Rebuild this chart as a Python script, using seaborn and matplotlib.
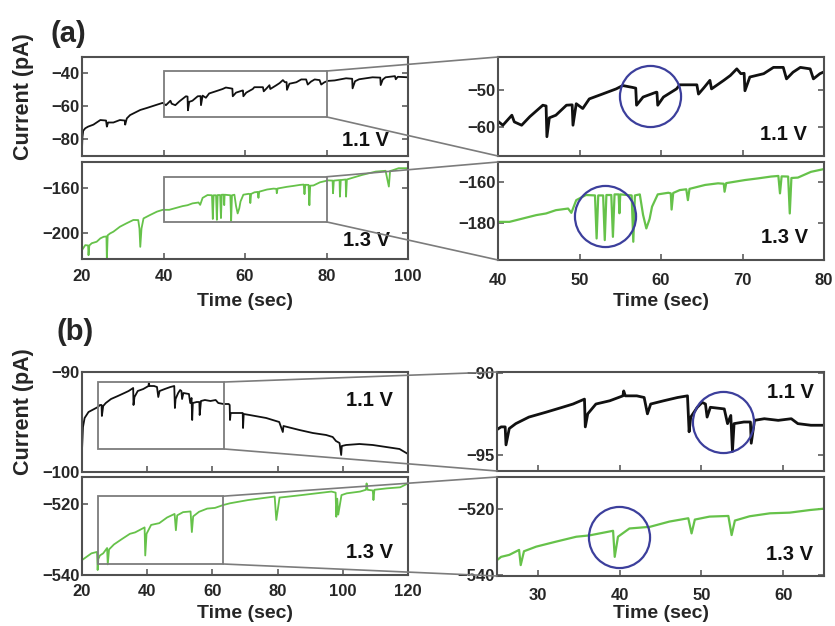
import matplotlib
matplotlib.use("Agg")
import matplotlib.pyplot as plt
import seaborn as sns
from matplotlib.patches import Rectangle, ConnectionPatch

# ---------------------------------------------------------------------
# data (time in sec, current in pA)
# ---------------------------------------------------------------------
# (a) 1.1 V
a11_t = [20.0, 20.1, 20.3, 20.8, 21.5, 22.8, 24.5, 25.9, 26.1, 26.4, 27.7, 29.3,
         30.5, 30.6, 31.0, 31.8, 34.3, 35.9, 38.4, 39.8, 40.6, 41.7, 42.0, 42.9,
         43.9, 45.5, 45.9, 46.0, 46.3, 47.1, 48.4, 49.1, 49.2, 49.6, 50.4, 51.2,
         52.8, 54.5, 55.3, 56.5, 56.9, 57.0, 57.8, 59.4, 59.5, 59.6, 60.3, 61.9,
         62.3, 64.4, 64.6, 65.3, 66.0, 66.2, 67.7, 68.5, 69.3, 69.8, 70.2, 70.3,
         70.9, 72.6, 73.8, 75.0, 75.4, 76.2, 77.1, 78.3, 78.7, 79.5, 80.3, 82.0,
         84.8, 86.3, 86.4, 87.0, 88.0, 91.3, 93.2, 93.3, 93.8, 94.5, 96.8, 97.0,
         97.5, 100.0]
a11_i = [-86.0, -79.0, -75.0, -73.5, -72.5, -71.3, -68.5, -68.8, -72.5, -70.0, -70.0, -68.5,
         -68.8, -71.3, -67.5, -65.5, -62.4, -61.2, -59.2, -58.1, -59.5, -56.8, -58.6, -59.5,
         -57.2, -54.1, -54.3, -62.6, -57.5, -56.8, -54.1, -54.0, -59.5, -53.7, -55.0, -52.4,
         -51.1, -49.7, -48.8, -49.3, -49.5, -54.1, -51.9, -50.6, -50.6, -54.1, -51.9, -49.7,
         -48.6, -48.6, -51.1, -49.3, -47.4, -49.7, -47.4, -46.1, -44.3, -45.6, -45.5, -50.2,
         -46.5, -45.6, -43.9, -43.9, -47.0, -45.2, -43.9, -44.3, -47.0, -45.6, -44.8, -44.5,
         -43.2, -43.5, -49.3, -45.0, -43.8, -42.6, -42.8, -47.3, -44.0, -42.6, -41.9, -43.8,
         -42.3, -42.6]

# (a) 1.3 V
a13_t = [20.0, 20.8, 21.5, 21.6, 21.8, 22.4, 23.6, 24.5, 25.3, 26.0, 26.1, 26.3,
         26.9, 27.7, 29.3, 30.9, 32.6, 33.8, 34.1, 34.3, 34.6, 35.1, 36.7, 38.4,
         39.8, 41.4, 43.1, 44.7, 45.9, 47.1, 48.6, 49.0, 49.6, 50.8, 51.9, 52.1,
         52.3, 52.9, 53.1, 53.3, 53.9, 54.1, 54.3, 54.8, 54.9, 55.0, 56.4, 56.6,
         56.8, 57.4, 57.8, 58.2, 58.6, 58.9, 59.6, 60.9, 61.2, 61.3, 61.5, 62.3,
         63.1, 63.3, 63.5, 65.4, 67.0, 67.7, 67.8, 68.0, 70.3, 71.9, 73.5, 74.4,
         74.6, 74.8, 75.6, 75.8, 76.0, 76.8, 78.4, 80.4, 81.5, 81.6, 81.8, 83.2,
         83.3, 83.5, 84.7, 84.8, 85.0, 88.8, 92.1, 94.5, 95.3, 95.6, 96.1, 97.7,
         100.0]
a13_i = [-215.1, -210.7, -211.0, -219.6, -211.0, -209.0, -207.7, -204.7, -203.3, -203.0, -224.0, -202.0,
         -200.3, -198.8, -194.4, -191.4, -188.4, -188.5, -196.0, -212.2, -196.0, -187.0, -184.0, -181.0,
         -179.4, -179.4, -177.7, -176.1, -175.3, -173.7, -172.9, -175.0, -168.8, -166.3, -166.5, -187.5,
         -166.5, -166.5, -188.3, -166.3, -166.3, -186.7, -166.0, -166.0, -175.2, -166.0, -166.5, -189.1,
         -166.5, -166.0, -176.0, -182.6, -178.0, -172.0, -166.0, -165.2, -165.5, -173.4, -165.3, -163.9,
         -163.5, -168.8, -163.3, -161.4, -160.6, -160.8, -164.7, -160.5, -159.0, -158.2, -157.3, -157.0,
         -165.5, -157.2, -157.3, -175.3, -158.0, -157.8, -155.0, -153.3, -153.5, -164.7, -153.5, -153.0,
         -167.7, -153.0, -152.5, -167.7, -152.5, -148.4, -145.5, -144.8, -158.8, -145.0, -144.5, -142.5,
         -142.5]

# (b) 1.1 V
b11_t = [20.0, 20.3, 20.8, 22.0, 24.9, 25.5, 26.0, 26.1, 26.5, 27.3, 28.9, 31.0,
         33.0, 34.3, 35.7, 35.8, 36.1, 37.1, 38.8, 40.4, 40.5, 40.7, 42.1, 43.0,
         43.4, 43.8, 45.4, 47.1, 48.3, 48.5, 48.7, 49.5, 50.1, 50.5, 50.7, 51.1,
         52.8, 53.2, 53.6, 53.8, 54.0, 55.2, 56.0, 56.1, 56.5, 57.7, 59.4, 61.0,
         61.8, 63.4, 65.0, 65.3, 65.4, 65.6, 69.3, 69.4, 69.6, 71.4, 76.5, 80.5,
         81.6, 81.8, 86.7, 90.8, 94.9, 96.9, 97.9, 99.0, 99.5, 99.7, 101.0, 105.1,
         109.2, 113.3, 117.4, 120.0]
b11_i = [-97.8, -95.5, -94.6, -94.0, -93.5, -93.3, -93.3, -94.4, -93.4, -93.1, -92.7, -92.4,
         -92.1, -91.9, -91.6, -93.3, -92.5, -91.9, -91.7, -91.4, -91.1, -91.4, -91.4, -91.5,
         -92.5, -91.9, -91.7, -91.5, -91.4, -93.6, -92.7, -92.1, -91.8, -91.9, -92.7, -92.1,
         -92.2, -93.1, -92.6, -94.8, -93.1, -93.0, -93.0, -94.3, -92.9, -92.8, -92.9, -92.8,
         -93.1, -93.2, -93.2, -93.3, -94.8, -94.1, -94.1, -95.6, -94.2, -94.3, -94.6, -95.0,
         -96.0, -95.4, -95.8, -96.1, -96.3, -96.5, -96.9, -97.1, -98.3, -97.4, -97.3, -97.2,
         -97.3, -97.5, -97.7, -98.2]

# (b) 1.3 V
b13_t = [20.0, 22.9, 24.6, 24.8, 25.0, 25.5, 26.5, 27.7, 27.9, 28.3, 29.8, 32.2,
         34.7, 36.3, 39.2, 39.4, 39.8, 41.2, 43.7, 46.1, 48.4, 48.8, 49.2, 51.0,
         53.3, 53.7, 54.1, 55.9, 58.4, 60.8, 63.3, 65.4, 70.9, 79.1, 79.6, 80.6,
         87.3, 96.5, 97.8, 98.0, 98.3, 98.6, 99.6, 101.2, 105.3, 107.1, 107.3, 107.6,
         109.2, 109.4, 109.7, 113.5, 117.6, 120.0]
b13_i = [-535.8, -533.9, -533.5, -538.6, -535.5, -534.5, -533.9, -532.4, -537.0, -532.8, -531.4, -529.9,
         -528.4, -528.0, -526.6, -534.5, -528.4, -525.9, -525.4, -523.8, -522.8, -527.4, -523.2, -522.3,
         -522.1, -527.9, -523.5, -522.2, -521.3, -521.1, -520.3, -519.8, -518.9, -517.9, -524.5, -518.2,
         -517.5, -516.5, -516.8, -523.6, -518.5, -523.0, -517.5, -517.0, -516.5, -516.0, -514.2, -516.0,
         -516.2, -518.9, -516.0, -515.6, -515.3, -514.2]

# zoom windows marked on the left panels: (t0, t1, i0, i1)
a11_box = (40, 80, -66.6, -38.8)
a13_box = (40, 80, -190.1, -150.1)
b11_box = (25, 63.7, -97.7, -91.0)
b13_box = (25, 63.3, -536.9, -517.8)

# circled events in the zoomed panels
a11_circle = (58.65, -51.6)
a13_circle = (53.1, -176.3)
b11_circle = (52.6, -93.0)
b13_circle = (39.9, -528.4)

# ---------------------------------------------------------------------
sns.set_style("ticks")
plt.rcParams["font.family"] = ["Liberation Sans", "DejaVu Sans"]
plt.rcParams["font.weight"] = "bold"

W, H = 835, 626
fig = plt.figure(figsize=(W / 100, H / 100), dpi=100)

BLACK = "#111111"
GREEN = "#66c24a"
FRAME = "#505050"
BOXC = "#7c7c7c"
BLUE = "#3c3f9c"


def px_axes(x0, y0, x1, y1):
    return fig.add_axes([x0 / W, 1 - y1 / H, (x1 - x0) / W, (y1 - y0) / H])


def style(ax, xlim, ylim, xt, yt, show_x, xpad):
    ax.set_xlim(*xlim)
    ax.set_ylim(*ylim)
    ax.set_xticks(xt)
    ax.set_yticks(yt)
    ax.set_xlabel("")
    ax.set_ylabel("")
    ax.tick_params(direction="in", length=4.5, width=1.1, color=FRAME,
                   labelsize=12, right=True, top=False, pad=1.5)
    ax.tick_params(axis="x", pad=xpad, labelbottom=show_x)
    for lab in ax.get_xticklabels() + ax.get_yticklabels():
        lab.set_fontweight("bold")
    for s in ax.spines.values():
        s.set_color(FRAME)
        s.set_linewidth(1.5)
        s.set_visible(True)


def trace(ax, t, i, color, lw):
    sns.lineplot(x=t, y=i, ax=ax, color=color, linewidth=lw,
                 estimator=None, sort=False, legend=False)


def link(axL, axR, box):
    t0, t1, i0, i1 = box
    axL.add_patch(Rectangle((t0, i0), t1 - t0, i1 - i0, fill=False,
                            edgecolor=BOXC, linewidth=1.3, zorder=4))
    for yb, ya in ((i1, 1.0), (i0, 0.0)):
        con = ConnectionPatch(xyA=(t1, yb), coordsA="data", axesA=axL,
                              xyB=(0.0, ya), coordsB="axes fraction", axesB=axR,
                              color=BOXC, linewidth=1.2, zorder=5)
        fig.add_artist(con)


def circle(ax, pt):
    ax.plot([pt[0]], [pt[1]], marker="o", markersize=44, markerfacecolor="none",
            markeredgecolor=BLUE, markeredgewidth=1.6, zorder=6)


def volt(x, y, s):
    fig.text(x / W, 1 - y / H, s, ha="right", va="center", fontsize=14.5,
             fontweight="bold", color=BLACK)


# ----- panel (a) -----
axA1L = px_axes(82, 57, 408, 156)
axA2L = px_axes(82, 162, 408, 259)
axA1R = px_axes(498, 57, 824, 156)
axA2R = px_axes(498, 162, 824, 260)

for ax in (axA1L, axA1R):
    trace(ax, a11_t, a11_i, BLACK, 1.3 if ax is axA1L else 2.0)
for ax in (axA2L, axA2R):
    trace(ax, a13_t, a13_i, GREEN, 1.3 if ax is axA2L else 1.6)

style(axA1L, (20, 100), (-90.3, -30.3), [20, 40, 60, 80, 100], [-80, -60, -40], False, 8)
style(axA2L, (20, 100), (-223, -137), [20, 40, 60, 80, 100], [-200, -160], True, 7.5)
style(axA1R, (40, 80), (-67.8, -41.1), [40, 50, 60, 70, 80], [-60, -50], False, 9)
style(axA2R, (40, 80), (-198, -150.2), [40, 50, 60, 70, 80], [-180, -160], True, 9)

link(axA1L, axA1R, a11_box)
link(axA2L, axA2R, a13_box)
circle(axA1R, a11_circle)
circle(axA2R, a13_circle)

# ----- panel (b) -----
axB1L = px_axes(82, 372, 408, 472)
axB2L = px_axes(82, 477, 408, 575)
axB1R = px_axes(497, 372, 824, 471)
axB2R = px_axes(497, 477, 824, 576)

for ax in (axB1L, axB1R):
    trace(ax, b11_t, b11_i, BLACK, 1.3 if ax is axB1L else 2.0)
for ax in (axB2L, axB2R):
    trace(ax, b13_t, b13_i, GREEN, 1.3 if ax is axB2L else 1.6)

style(axB1L, (20, 120), (-100, -90), [20, 40, 60, 80, 100, 120], [-100, -90], False, 8)
style(axB2L, (20, 120), (-540, -512.4), [20, 40, 60, 80, 100, 120], [-540, -520], True, 6.5)
style(axB1R, (25, 65), (-96.0, -89.94), [30, 40, 50, 60], [-95, -90], False, 9)
style(axB2R, (25, 65), (-540.3, -510.3), [30, 40, 50, 60], [-540, -520], True, 9)

link(axB1L, axB1R, b11_box)
link(axB2L, axB2R, b13_box)
circle(axB1R, b11_circle)
circle(axB2R, b13_circle)

# ----- texts -----
volt(389, 140, "1.1 V")
volt(390, 240, "1.3 V")
volt(807, 134, "1.1 V")
volt(808, 238, "1.3 V")
volt(393, 400, "1.1 V")
volt(393, 553, "1.3 V")
volt(814, 392, "1.1 V")
volt(813, 554, "1.3 V")

fig.text(51 / W, 1 - 34 / H, "(a)", ha="left", va="center", fontsize=21, fontweight="bold")
fig.text(57 / W, 1 - 332 / H, "(b)", ha="left", va="center", fontsize=21, fontweight="bold")
fig.text(23 / W, 1 - 97 / H, "Current (pA)", rotation=90, ha="center", va="center",
         fontsize=15.5, fontweight="bold")
fig.text(23 / W, 1 - 412 / H, "Current (pA)", rotation=90, ha="center", va="center",
         fontsize=15.5, fontweight="bold")
for x, y in ((245, 302), (661, 302), (245, 614), (661, 614)):
    fig.text(x / W, 1 - y / H, "Time (sec)", ha="center", va="center",
             fontsize=14, fontweight="bold")

fig.savefig("out.png", dpi=100)
